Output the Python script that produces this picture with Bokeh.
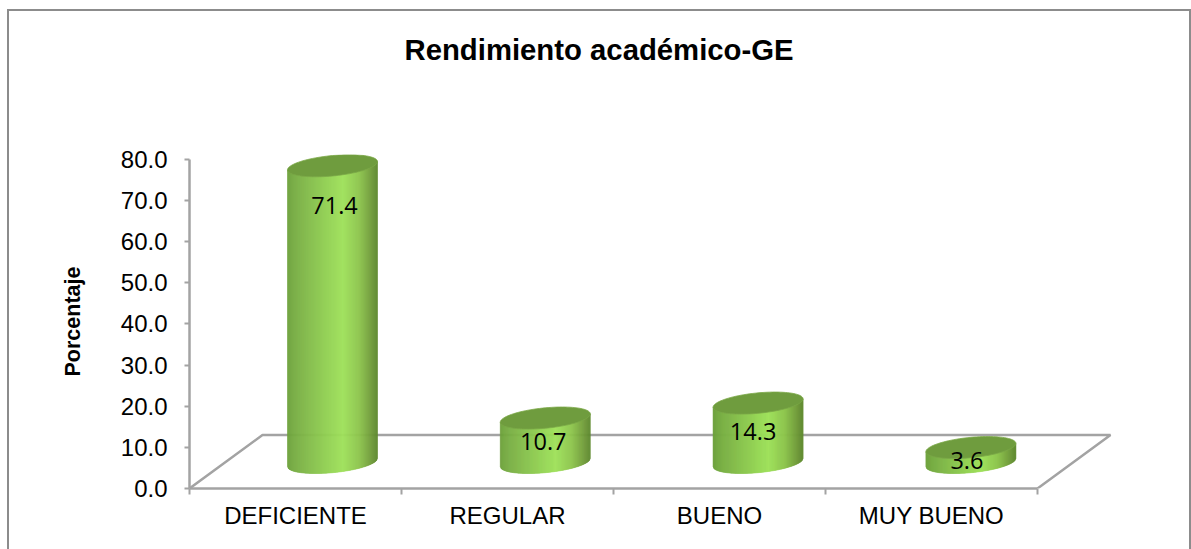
from bokeh.core.properties import value
from bokeh.embed import file_html
from bokeh.models import (ColumnDataSource, FixedTicker, LinearAxis,
                          NumeralTickFormatter, Range1d, Title)
from bokeh.plotting import figure
from bokeh.resources import INLINE
import numpy as np

# ---- chart values ----
categories = ["DEFICIENTE", "REGULAR", "BUENO", "MUY BUENO"]
percentages = [71.4, 10.7, 14.3, 3.6]
chart_title = "Rendimiento académico-GE"
y_title = "Porcentaje"
y_ticks = [0, 10, 20, 30, 40, 50, 60, 70, 80]

# ---- layout (screen pixels) ----
W, H = 1180, 538
CANVAS_W, CANVAS_H = W + 4, H + 2   # the drawing area includes the page border
LEFT, RIGHT, TOP, BOTTOM = 180, 0, 143, 63
PX_X = 212.0            # pixels per category
PX_Y = 4.115            # pixels per percentage point
DEPTH_X, DEPTH_Y = 73.0, 53.5   # floor depth
BAR_FIRST, BAR_STEP, BAR_DY = 143.0, 212.8, 26.0  # cylinder bases, from the axis origin
A, B, SLOPE = 45.0, 10.2, 0.092  # cylinder ellipse
BAR_SCALE = 1.01
LABEL_DROP = [40, 23, 28, 13]    # data label distance below the cap centre
LABEL_SHIFT = [2, -2, -5, -4]    # data label distance right of the cylinder axis

STOPS = [0, .08, .2, .4, .62, .8, .93, 1]
REDS = [0x6c, 0x76, 0x80, 0x8e, 0x9e, 0x8c, 0x70, 0x5e]
GREENS = [0xa0, 0xac, 0xb8, 0xcc, 0xe0, 0xc4, 0x9c, 0x88]
BLUES = [0x3a, 0x42, 0x48, 0x50, 0x5a, 0x4c, 0x3a, 0x2e]

p = figure(width=W, height=H, output_backend="svg", toolbar_location=None,
           x_axis_type=None, y_axis_type=None,
           min_border_left=LEFT, min_border_right=RIGHT, min_border_top=TOP, min_border_bottom=BOTTOM,
           title=chart_title)
p.x_range = Range1d(0, (CANVAS_W - LEFT - RIGHT) / PX_X)
p.y_range = Range1d(0, (CANVAS_H - TOP - BOTTOM) / PX_Y)
p.outline_line_color = None
p.background_fill_color = "white"
p.border_fill_color = "white"
for g in p.grid:
    g.visible = False

p.title.text_font = "Liberation Sans"
p.title.text_font_size = "29.3px"
p.title.text_font_style = "bold"
p.title.text_color = "black"
p.title.align = "left"
p.title.offset = 215
p.title.standoff = 4
# blank spacer title keeps the chart title high above the plot area
p.add_layout(Title(text=" ", text_font_size="2px", standoff=83), "above")

# axes
GRAY = "#a3a3a3"
yaxis = LinearAxis(ticker=FixedTicker(ticks=y_ticks), formatter=NumeralTickFormatter(format="0.0"),
                   bounds=(0, 80), axis_label=y_title, axis_label_text_font="Liberation Sans",
                   axis_label_text_font_size="21.5px", axis_label_text_font_style="bold",
                   axis_label_text_color="black", axis_label_standoff=33,
                   major_label_text_font="Liberation Sans", major_label_text_font_size="24px",
                   major_label_text_color="black", major_label_standoff=17,
                   axis_line_color=GRAY, axis_line_width=2.5, major_tick_line_color=GRAY,
                   major_tick_line_width=2, major_tick_in=0, major_tick_out=5, minor_tick_line_color=None)
p.add_layout(yaxis, "left")

n = len(categories)
centers = [i + 0.5 for i in range(n)]
xaxis = LinearAxis(ticker=FixedTicker(ticks=centers, minor_ticks=list(range(n + 1))),
                   major_label_overrides={c: name for c, name in zip(centers, categories)},
                   bounds=(0, n), major_label_text_font="Liberation Sans", major_label_text_font_size="24px",
                   major_label_text_color="black", major_label_standoff=7,
                   axis_line_color=GRAY, axis_line_width=2.5, major_tick_line_color=None,
                   minor_tick_line_color=GRAY, minor_tick_line_width=2, minor_tick_in=0, minor_tick_out=6)
p.add_layout(xaxis, "below")

# floor
dx, dy = DEPTH_X / PX_X, DEPTH_Y / PX_Y
p.line([0, dx, n + dx, n], [0, dy, dy, 0], line_color=GRAY, line_width=2.5)

# cylinders
strip_xs, strip_ys, strip_cols = [], [], []
cap_xs, cap_ys = [], []
lab_x, lab_y = [], []
edges = np.linspace(-A, A, 91)
t_grid = np.linspace(0, 2 * np.pi, 97)
for i, val in enumerate(percentages):
    cx = (BAR_FIRST + i * BAR_STEP) / PX_X
    y0 = BAR_DY / PX_Y
    h = val * BAR_SCALE
    for l, r in zip(edges[:-1], edges[1:]):
        mid = (l + r) / 2
        f = (mid + A) / (2 * A)
        col = "#%02x%02x%02x" % tuple(int(round(np.interp(f, STOPS, c))) for c in (REDS, GREENS, BLUES))
        low = lambda u: (SLOPE * u - B * np.sqrt(max(0, 1 - (u / A) ** 2))) / PX_Y + y0
        top = lambda u: SLOPE * u / PX_Y + y0 + h
        strip_xs.append([cx + l / PX_X, cx + r / PX_X, cx + r / PX_X, cx + l / PX_X])
        strip_ys.append([low(l), low(r), top(r), top(l)])
        strip_cols.append(col)
    cap_xs.append(list(cx + A * np.cos(t_grid) / PX_X))
    cap_ys.append(list(y0 + h + (B * np.sin(t_grid) + SLOPE * A * np.cos(t_grid)) / PX_Y))
    lab_x.append(cx + LABEL_SHIFT[i] / PX_X)
    lab_y.append(y0 + h - LABEL_DROP[i] / PX_Y)

p.patches("xs", "ys", source=ColumnDataSource(dict(xs=strip_xs, ys=strip_ys, c=strip_cols)),
          fill_color="c", line_color="c", line_width=0.6)
p.patches(cap_xs, cap_ys, fill_color="#6f9c3e", line_color="#7ba848", line_width=0.8)

p.text(lab_x, lab_y, text=[f"{v:.1f}" for v in percentages], text_font=value("Open Sans"),
       text_font_size="23.5px", text_align="center", text_baseline="middle", text_color="black")

# outer frame, open at the bottom
BORDER = "2px solid #8c8c8c"
p.styles = {"margin-left": "7px", "margin-top": "9px", "box-sizing": "content-box",
            "border-left": BORDER, "border-top": BORDER, "border-right": BORDER}
open("out.html", "w").write(file_html(p, INLINE))
